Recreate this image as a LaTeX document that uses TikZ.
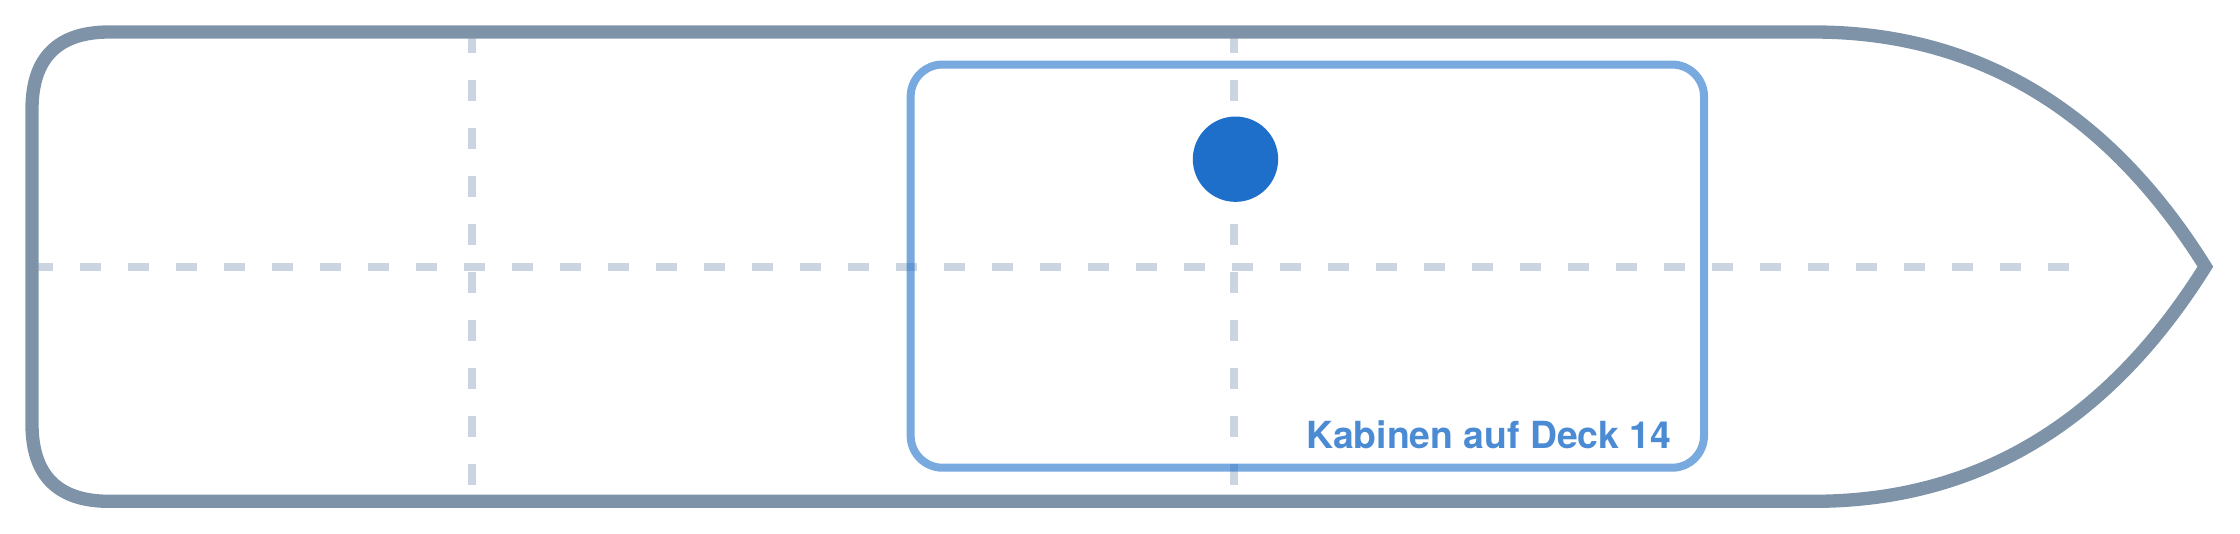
\documentclass[tikz,border=0pt]{standalone}
\usepackage{fontspec}
\setmainfont{TeX Gyre Heros}
\definecolor{hullc}{HTML}{7F93A8}
\definecolor{gridc}{HTML}{CBD5E1}
\definecolor{dotc}{HTML}{1E6FCA}
\definecolor{labc}{HTML}{4B8BD3}
\begin{document}
\begin{tikzpicture}[x=1pt,y=-1pt,
  hull/.style={draw=hullc,line width=5pt,line join=miter},
  guide/.style={draw=gridc,line width=3pt,dash pattern=on 8pt off 10pt},
  cabin/.style={draw=dotc,draw opacity=0.6,line width=3pt,rounded corners=12pt,
    rectangle,inner sep=0pt,minimum width=297.5pt,minimum height=151.2pt},
  marker/.style={circle,fill=dotc,inner sep=0pt,minimum size=32pt},
  caption/.style={text=labc,font=\bfseries\fontsize{14pt}{16pt}\selectfont,inner sep=0pt}]
\useasboundingbox (0,0) rectangle (840,199.9);
% guide lines
\coordinate (hl) at (12,100);
\coordinate (hr) at (780,100);
\coordinate (v1t) at (177,12);
\coordinate (v1b) at (177,188);
\coordinate (v2t) at (462.8,12);
\coordinate (v2b) at (462.8,188);
\draw[guide] (hl) -- (hr);
\draw[guide] (v1t) -- (v1b);
\draw[guide] (v2t) -- (v2b);
% hull
\draw[hull] (41,12) -- (680,12)
  .. controls (741.33,12) and (790.33,41.33) .. (827,100)
  .. controls (790.33,158.67) and (741.33,188) .. (680,188)
  -- (41,188)
  .. controls (21.67,188) and (12,178.33) .. (12,159)
  -- (12,41)
  .. controls (12,21.67) and (21.67,12) .. (41,12) -- cycle;
% cabins
\node[cabin] (cabins) at (490.25,99.8) {};
\node[marker] (dot) at (463.3,59.7) {};
\node[caption,anchor=base east] (lbl) at (627,168) {Kabinen auf Deck 14};
\end{tikzpicture}
\end{document}
